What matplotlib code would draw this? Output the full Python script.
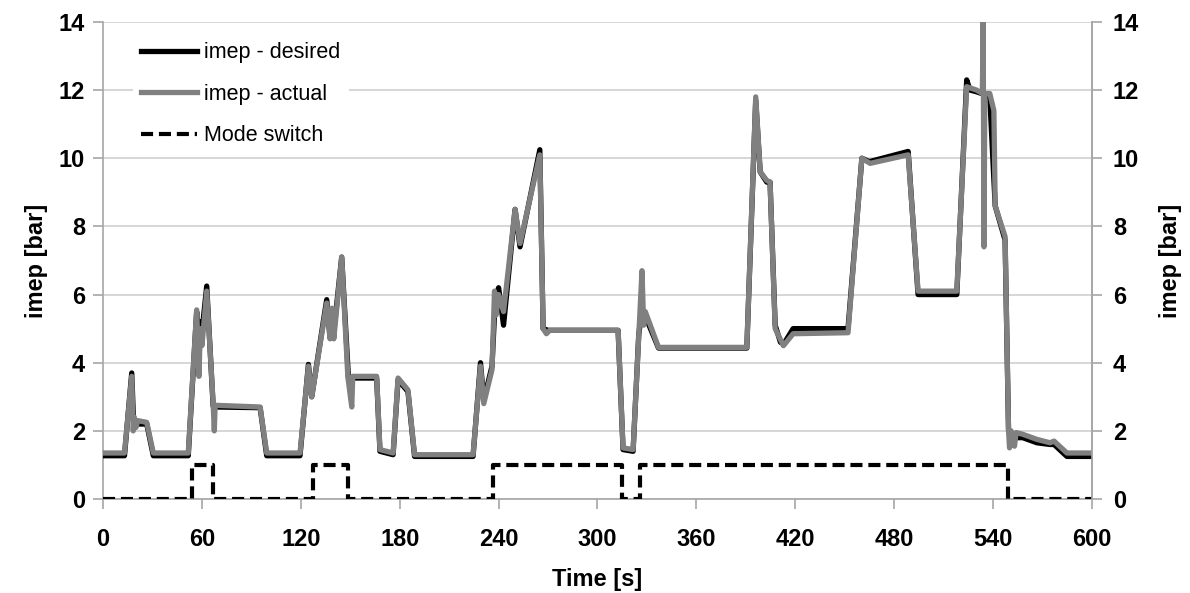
import matplotlib
matplotlib.use("Agg")
import matplotlib.pyplot as plt

# Engine load trace: desired vs. actual imep with combustion mode switch
desired_t = [0, 13, 17.4, 18.5, 20, 26.5, 30.5, 51.7, 56.8, 58, 59, 60, 62.9, 66.8, 68,
             95.3, 99.3, 119.5, 124.6, 126.6, 135.7, 137.7, 139, 140, 144.8, 148.9, 166,
             168, 176, 179, 185, 189, 224.5, 229, 231, 236, 238, 240, 243, 250, 253, 265,
             267, 270, 312.5, 315.5, 321.6, 325, 327, 337, 390.6, 396, 398.7, 402.7, 404.7,
             407.8, 411, 413, 418.7, 452, 460.4, 465, 488.5, 494.5, 518, 524, 526, 530,
             536, 538, 541.3, 547.3, 549.4, 553, 558, 566.6, 574.6, 577, 584.8, 600]
desired_v = [1.27, 1.27, 3.7, 2.3, 2.2, 2.2, 1.27, 1.27, 5.5, 4.6, 5.2, 4.9, 6.25, 2.72, 2.7,
             2.68, 1.27, 1.27, 3.95, 3.0, 5.85, 4.75, 5.5, 4.9, 7.1, 3.55, 3.55,
             1.4, 1.3, 3.5, 3.15, 1.25, 1.25, 4.0, 2.9, 3.9, 5.9, 6.2, 5.1, 8.5, 7.4, 10.25,
             5.0, 4.95, 4.95, 1.45, 1.4, 4.8, 5.6, 4.43, 4.43, 11.7, 9.6, 9.3, 9.3,
             5.1, 4.6, 4.55, 5.0, 5.0, 10.0, 9.9, 10.2, 6.0, 6.0, 12.3, 12.0, 11.95,
             11.85, 11.8, 8.6, 7.6, 2.0, 1.8, 1.8, 1.65, 1.6, 1.6, 1.25, 1.25]

actual_t = [0, 13, 17.4, 18.3, 19, 20, 21, 26.5, 30.5, 51.7, 56.8, 58.2, 59, 60, 62.9, 66.8,
            67.5, 68, 95.3, 99.3, 119.5, 124.6, 126.6, 135.7, 137.7, 139, 140, 144.8, 148.5,
            150.9, 151.5, 166, 168, 176, 179, 185, 189, 224.5, 229, 231, 236, 237.5, 238.5,
            240, 243, 250, 253, 265, 267, 269, 271, 312.5, 315.5, 321.6, 327, 328, 329, 337,
            390.6, 396, 398.7, 402.7, 404.7, 407.8, 412.8, 418.7, 452, 460.4, 465.4, 488.5,
            494.5, 518, 524, 530, 533.5, 534, 534.5, 535, 538, 540.5, 541.3, 547.3, 549.4,
            550, 551, 553, 554, 558, 566.6, 574.6, 577, 584.8, 600]
actual_v = [1.35, 1.35, 3.6, 2.0, 2.4, 2.1, 2.3, 2.25, 1.35, 1.35, 5.55, 3.6, 5.0, 4.5, 6.1, 2.8,
            2.0, 2.75, 2.7, 1.35, 1.35, 3.9, 3.0, 5.75, 4.7, 5.6, 4.7, 7.1, 3.6,
            2.7, 3.6, 3.6, 1.45, 1.35, 3.55, 3.2, 1.3, 1.3, 3.9, 2.8, 3.8, 6.1, 5.4,
            6.0, 5.5, 8.5, 7.5, 10.1, 5.0, 4.85, 4.95, 4.95, 1.5, 1.45, 6.7, 5.1, 5.5, 4.45,
            4.45, 11.8, 9.6, 9.35, 9.3, 5.0, 4.5, 4.85, 4.88, 10.0, 9.85, 10.1,
            6.1, 6.1, 12.1, 12.0, 11.9, 14.0, 7.4, 11.9, 11.9, 11.4, 8.6, 7.7, 2.0,
            1.5, 2.0, 1.55, 1.95, 1.9, 1.75, 1.65, 1.7, 1.35, 1.35]

mode_t = [0, 53.8, 66.9, 127.6, 148.9, 236.4, 314.7, 325.5, 549, 600]
mode_v = [0, 1, 0, 1, 0, 1, 0, 1, 0, 0]

x_ticks = [0, 60, 120, 180, 240, 300, 360, 420, 480, 540, 600]
y_ticks = [0, 2, 4, 6, 8, 10, 12, 14]

plt.rcParams['font.family'] = ['Liberation Sans', 'DejaVu Sans']

fig = plt.figure(figsize=(11.9, 5.93), dpi=100)
ax = fig.add_axes([0.0866, 0.1585, 0.831, 0.8045])

axis_col = '#a6a6a6'
ax.plot(desired_t, desired_v, color='black', lw=3.8, label='imep - desired', zorder=3)
ax.plot(actual_t, actual_v, color='#808080', lw=3.8, label='imep - actual', zorder=4)
ax.plot(mode_t, mode_v, color='black', lw=3.0, ls=(0, (2.9, 1.4)), drawstyle='steps-post',
        label='Mode switch', zorder=5)

ax.set_xlim(0, 600)
ax.set_ylim(0, 14)
ax.set_xticks(x_ticks)
ax.set_yticks(y_ticks)
ax.grid(axis='y', color='#d0d0d0', lw=1.2, zorder=0)
ax.set_axisbelow(True)

ax.spines['top'].set_visible(False)
for s in ['left', 'bottom', 'right']:
    ax.spines[s].set_color(axis_col)
    ax.spines[s].set_linewidth(1.2)
ax.tick_params(axis='both', direction='out', length=7, width=1.2, color=axis_col,
               labelsize=17, pad=6)
for lab in ax.get_xticklabels() + ax.get_yticklabels():
    lab.set_fontweight('bold')
ax.tick_params(axis='x', pad=14)

ax.set_xlabel('Time [s]', fontsize=17, fontweight='bold', labelpad=12)
ax.set_ylabel('imep [bar]', fontsize=17, fontweight='bold', labelpad=8)

ax2 = ax.twinx()
ax2.set_ylim(0, 14)
ax2.set_yticks(y_ticks)
for s in ['top', 'left', 'bottom']:
    ax2.spines[s].set_visible(False)
ax2.spines['right'].set_color(axis_col)
ax2.spines['right'].set_linewidth(1.2)
ax2.tick_params(axis='y', direction='out', length=7, width=1.2, color=axis_col,
                labelsize=17, pad=8)
for lab in ax2.get_yticklabels():
    lab.set_fontweight('bold')
ax2.set_ylabel('imep [bar]', fontsize=17, fontweight='bold', labelpad=14)

leg = ax.legend(loc='upper left', bbox_to_anchor=(0.03, 0.975), frameon=True,
                fontsize=15.5, handlelength=2.6, handletextpad=0.3, labelspacing=0.95,
                borderaxespad=0.0)
leg.get_frame().set_edgecolor('none')
leg.get_frame().set_facecolor('white')
leg.get_frame().set_alpha(1.0)
leg.set_zorder(10)

fig.savefig('out.png', dpi=100)
